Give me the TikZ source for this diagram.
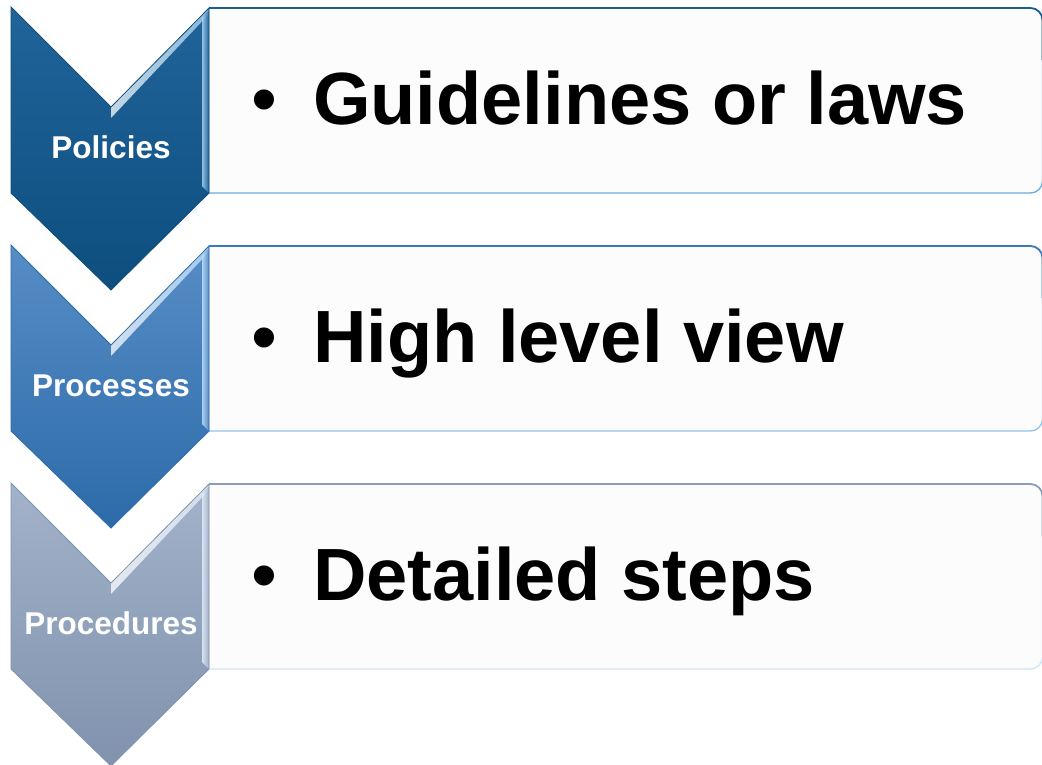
\documentclass[tikz,border=0pt]{standalone}
\usepackage{fontspec}
\setmainfont{Liberation Sans}
\definecolor{ca1}{HTML}{21649A}
\definecolor{cb1}{HTML}{0D4E7E}
\definecolor{ch1}{HTML}{A9D3F2}
\definecolor{bt1}{HTML}{1C5D8F}
\definecolor{bb1}{HTML}{6AAEDC}
\definecolor{ca2}{HTML}{578DC6}
\definecolor{cb2}{HTML}{2C6BA9}
\definecolor{ch2}{HTML}{BFE0FA}
\definecolor{bt2}{HTML}{3D79B7}
\definecolor{bb2}{HTML}{8FC5EE}
\definecolor{ca3}{HTML}{A2B2CA}
\definecolor{cb3}{HTML}{8092AD}
\definecolor{ch3}{HTML}{E3EEF9}
\definecolor{bt3}{HTML}{8C9DB8}
\definecolor{bb3}{HTML}{CBE7F8}
\definecolor{boxfill}{HTML}{FCFCFC}
\tikzset{
  labeltext/.style={text=white, font=\bfseries\fontsize{31.5}{38}\selectfont, inner sep=0pt, anchor=base},
  bigtext/.style={text=black, font=\bfseries\fontsize{74}{88}\selectfont, inner sep=0pt, anchor=base west},
  bullettext/.style={text=black, font=\fontsize{74}{88}\selectfont, inner sep=0pt, anchor=base},
}
\begin{document}
\begin{tikzpicture}[x=1pt,y=-1pt]
\useasboundingbox (0,0) rectangle (1042,764);
\fill[white] (0,0) rectangle (1042,764);
\foreach \n/\dy/\lab/\txt in {1/0/Policies/Guidelines or laws, 2/238/Processes/High level view, 3/476/Procedures/Detailed steps}{
  \begin{scope}[yshift=-\dy pt]
    % text box
    \fill[boxfill] (209,8) [rounded corners=12pt] -- (1042.5,8) -- (1042.5,193) [sharp corners] -- (209,193) -- cycle;
    \draw[bb\n, line width=1.3pt] (209,193) [rounded corners=12pt] -- (1042.5,193) -- (1042.5,8);
    \draw[bt\n, line width=1.8pt] (209,8) [rounded corners=12pt] -- (1042.5,8) -- (1042.5,60);
    % chevron
    \shade[top color=ca\n, bottom color=cb\n] (11,7) -- (111,107) -- (209,8) -- (209,193) -- (111,290) -- (11,193) -- cycle;
    % bevel highlights
    \shade[left color=white, right color=ch\n, opacity=0.75] (111,107) -- (209,8) -- (209,14) -- (111,118) -- cycle;
    \shade[left color=ch\n, right color=ca\n, opacity=0.85] (202,18) -- (209,10) -- (209,193) -- (202,186) -- cycle;
    \draw[cb\n, line width=0.8pt] (11,7) -- (111,107) -- (209,8) -- (209,193) -- (111,290) -- (11,193) -- cycle;
    % labels
    \node[labeltext] (lab\n) at (111,158) {\lab};
    \node[bullettext] (bul\n) at (264,124) {•};
    \node[bigtext] (txt\n) at (313,124) {\txt};
  \end{scope}
}
\end{tikzpicture}
\end{document}
